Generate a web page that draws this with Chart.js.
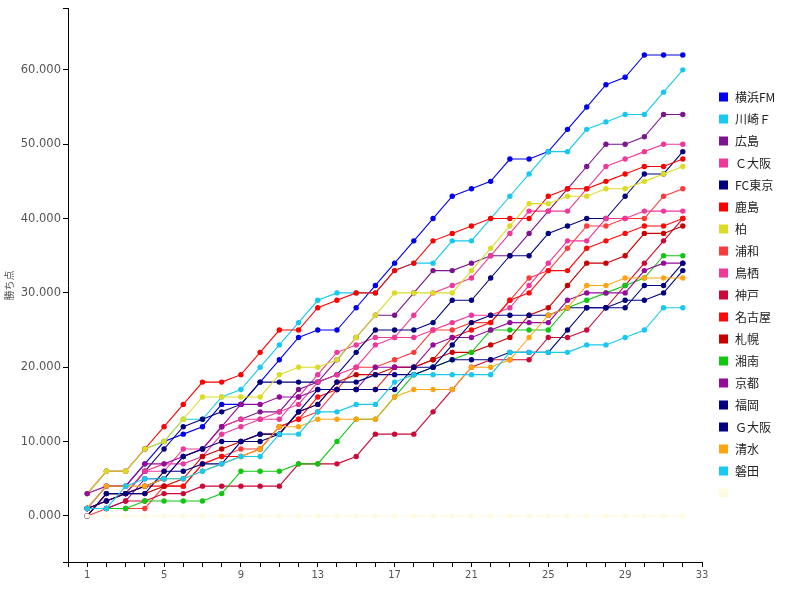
<!DOCTYPE html>
<html><head><meta charset="utf-8">
<script src="https://cdn.jsdelivr.net/npm/chart.js@4.4.1/dist/chart.umd.min.js"></script>
<style>html,body{margin:0;padding:0;background:#fff}#wrap{width:789px;height:589px;position:relative}</style>
</head><body><div id="wrap"><canvas id="c" width="789" height="589"></canvas></div>
<script>
const rounds = Array.from({length:32},(_,i)=>i+1);
const teams = ["横浜FM","川崎Ｆ","広島","Ｃ大阪","FC東京","鹿島","柏","浦和","鳥栖","神戸","名古屋","札幌","湘南","京都","福岡","Ｇ大阪","清水","磐田",""];
const colors = ["#0000ee","#17c8f0","#7c1490","#f0389a","#000080","#ff0000","#dcdc26","#ff3a3a","#f0389a","#cc0838","#ff0a0a","#c80000","#10c810","#940c9c","#000080","#000080","#ffa514","#17c8f0","#fffbe0"];
const yokohama = [1,4,4,7,10,11,12,15,15,18,21,24,25,25,28,31,34,37,40,43,44,45,48,48,49,52,55,58,59,62,62,62];
const kawasaki = [3,6,6,9,10,13,13,16,17,20,23,26,29,30,30,30,33,34,34,37,37,40,43,46,49,49,52,53,54,54,57,60];
const hiroshima = [1,1,2,5,5,8,9,12,13,14,14,17,18,21,24,27,27,30,33,33,34,35,35,38,41,44,47,50,50,51,54,54];
const cosaka = [1,2,3,6,7,7,8,11,12,13,13,16,19,22,23,24,24,27,30,31,32,35,38,41,41,41,44,47,48,49,50,50];
const tokyo = [0,3,3,6,9,12,13,14,15,18,18,18,18,19,22,25,25,25,26,29,29,32,35,35,38,39,40,40,43,46,46,49];
const kashima = [3,6,6,9,12,15,18,18,19,22,25,25,28,29,30,30,33,34,37,38,39,40,40,40,43,44,44,45,46,47,47,48];
const kashiwa = [3,6,6,9,10,13,16,16,16,16,19,20,20,21,24,27,30,30,30,30,33,36,39,42,42,43,43,44,44,45,46,47];
const urawa = [0,1,1,1,4,4,7,8,9,9,12,13,14,17,20,20,21,22,25,25,26,26,29,32,33,36,39,39,40,40,43,44];
const tosu = [1,2,3,6,6,9,9,12,13,13,14,15,18,19,20,23,24,24,25,26,27,27,28,31,34,37,37,40,40,41,41,41];
const kobe = [1,1,2,2,3,3,4,4,4,4,4,7,7,7,8,11,11,11,14,17,20,21,21,21,24,24,25,28,31,34,37,40];
const nagoya = [0,3,3,4,4,4,7,8,8,9,12,13,16,17,17,17,20,20,21,24,25,26,29,30,33,33,36,37,38,39,39,40];
const sapporo = [1,2,3,3,4,5,8,9,10,11,11,14,15,18,19,19,20,20,21,22,22,23,24,27,28,31,34,34,35,38,38,39];
const shonan = [1,1,1,2,2,2,2,3,6,6,6,7,7,10,13,13,16,19,20,21,22,25,25,25,25,28,29,30,31,32,35,35];
const kyoto = [3,4,4,7,7,8,9,12,15,15,16,16,17,17,17,20,20,20,23,24,24,25,26,26,26,29,30,30,30,33,34,34];
const fukuoka = [0,3,3,4,5,8,9,10,10,10,11,14,15,18,18,19,19,19,20,21,21,21,22,22,22,25,28,28,28,31,31,34];
const gosaka = [1,2,3,3,6,6,7,7,10,11,11,14,17,17,17,17,17,20,20,23,26,27,27,27,27,28,28,28,29,29,30,33];
const shimizu = [1,4,4,4,5,5,6,7,8,9,12,12,13,13,13,13,16,17,17,17,20,20,21,24,27,28,31,31,32,32,32,32];
const iwata = [1,1,4,5,5,5,6,7,8,8,11,11,14,14,15,15,18,19,19,19,19,19,22,22,22,22,23,23,24,25,28,28];
const blank = [0,0,0,0,0,0,0,0,0,0,0,0,0,0,0,0,0,0,0,0,0,0,0,0,0,0,0,0,0,0,0,0];
const series = [yokohama,kawasaki,hiroshima,cosaka,tokyo,kashima,kashiwa,urawa,tosu,kobe,nagoya,sapporo,shonan,kyoto,fukuoka,gosaka,shimizu,iwata,blank];
const yTicks = [0,10,20,30,40,50,60];
const xLabels = [1,5,9,13,17,21,25,29,33];
const Y_MIN = -6.2, Y_MAX = 68.2;

const FONT = "DejaVu Sans";
const datasets = series.map((vals,k)=>({
  label: teams[k],
  data: vals.map((v,i)=>({x:rounds[i], y:v})),
  borderColor: colors[k], backgroundColor: colors[k],
  pointBackgroundColor: colors[k], pointBorderWidth:0,
  borderWidth: 1.1, pointRadius: 2.7, tension: 0,
  order: series.length - k
}));

const legendPlugin = {
  id:'customLegend',
  afterDraw(chart){
    const ctx = chart.ctx;
    ctx.save();
    ctx.font = "12px 'Noto Sans CJK JP', sans-serif";
    ctx.textBaseline = 'middle';
    teams.forEach((t,k)=>{
      const y = 97 + k*22;
      ctx.fillStyle = colors[k];
      ctx.fillRect(719, y-4.5, 9, 9);
      ctx.fillStyle = '#222';
      ctx.fillText(t, 735, y+0.5);
    });
    ctx.restore();
  }
};

new Chart(document.getElementById('c'), {
  type:'line',
  data:{datasets},
  options:{
    responsive:false, animation:false, devicePixelRatio:1,
    layout:{padding:{top:8,right:87,left:0,bottom:0}},
    plugins:{legend:{display:false}, tooltip:{enabled:false}},
    scales:{
      x:{type:'linear', min:0, max:33,
        afterFit(s){ s.height = 27; },
        afterBuildTicks(s){ s.ticks = Array.from({length:34},(_,i)=>({value:i})); },
        ticks:{autoSkip:false, maxRotation:0, padding:2, color:'#555', font:{family:FONT, size:10},
          callback:(v)=> xLabels.includes(v) ? String(v) : ''},
        grid:{drawOnChartArea:false, drawTicks:true, tickLength:5, color:'#000', lineWidth:1},
        border:{display:true, color:'#000', width:1}
      },
      y:{type:'linear', min:Y_MIN, max:Y_MAX,
        afterFit(s){ s.width = 68; },
        afterBuildTicks(s){ s.ticks = [Y_MIN, ...yTicks, Y_MAX].map(v=>({value:v})); },
        ticks:{padding:2, color:'#555', font:{family:FONT, size:11.5},
          callback:(v)=> yTicks.includes(v) ? v.toFixed(3) : ''},
        grid:{drawOnChartArea:false, drawTicks:true, tickLength:5, color:'#000', lineWidth:1},
        border:{display:true, color:'#000', width:1},
        title:{display:true, text:'勝ち点', color:'#555', font:{family:"'Noto Sans CJK JP', sans-serif", size:10}, padding:{top:3,bottom:0}}
      }
    }
  },
  plugins:[legendPlugin]
});
</script></body></html>
